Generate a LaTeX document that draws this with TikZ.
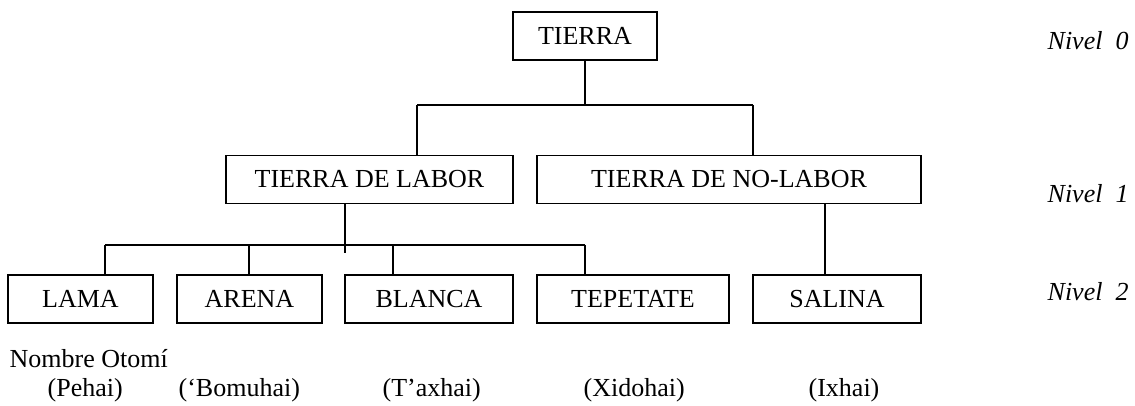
\documentclass[tikz,border=0pt]{standalone}
\usepackage{fontspec}
\setmainfont{Liberation Serif}
\usepackage{tikz}
\tikzset{every picture/.style={x=0.5pt,y=-0.5pt,line width=0.65pt},
  caja/.style={draw,rectangle,inner sep=0pt,minimum height=23.75pt},
  nivel/.style={anchor=base west,inner sep=0pt,font=\fontsize{13}{15.6}\selectfont\itshape},
  texto/.style={anchor=base west,inner sep=0pt}}

\begin{document}
\begin{tikzpicture}[font=\fontsize{13}{15.6}\selectfont]
      \useasboundingbox (0,0) rectangle (1135,406);

      \node[caja,minimum width=72pt,minimum height=24pt] (tierra) at (585, 36){TIERRA};
      \node[caja,minimum width=143.5pt] (labor) at (369.5, 179.5){TIERRA DE LABOR};
      \node[caja,minimum width=192pt] (nolabor) at (729, 179.5){TIERRA DE NO-LABOR};
      \node[caja,minimum width=72.5pt,minimum height=24pt] (lama) at (80.5, 299){LAMA};
      \node[caja,minimum width=72.5pt,minimum height=24pt] (arena) at (249.5, 299){ARENA};
      \node[caja,minimum width=84pt,minimum height=24pt] (blanca) at (429, 299){BLANCA};
      \node[caja,minimum width=96pt,minimum height=24pt] (tepetate) at (633, 299){TEPETATE};
      \node[caja,minimum width=84pt,minimum height=24pt] (salina) at (837, 299){SALINA};

      \node[nivel] (niv0) at (1047, 50){Nivel\ \ 0};
      \node[nivel] (niv1) at (1047, 203){Nivel\ \ 1};
      \node[nivel] (niv2) at (1047, 300){Nivel\ \ 2};

      \node[texto] (otomi) at (9, 367){Nombre Otomí};
      \node[texto] (o1) at (47, 396){(Pehai)};
      \node[texto] (o2) at (178, 396){(`Bomuhai)};
      \node[texto] (o3) at (382, 396){(T'axhai)};
      \node[texto] (o4) at (583, 396){(Xidohai)};
      \node[texto] (o5) at (808, 396){(Ixhai)};

      \coordinate (c0) at (585, 105);
      \coordinate (c0a) at (417, 105);
      \coordinate (c0b) at (753, 105);
      \coordinate (c1) at (345, 253);
      \coordinate (c1a) at (105, 245);
      \coordinate (c1b) at (249, 245);
      \coordinate (c1c) at (393, 245);
      \coordinate (c1d) at (585, 245);
      \coordinate (c2) at (825, 245);

      \draw[-](tierra.south)--(c0);
      \draw[-](c0a)--(c0b);
      \draw[-](c0a)--(c0a |- labor.north);
      \draw[-](c0b)--(c0b |- nolabor.north);
      \draw[-](labor.south -| c1)--(c1);
      \draw[-](c1a)--(c1d);
      \foreach \c/\n in {c1a/lama, c1b/arena, c1c/blanca, c1d/tepetate}
        \draw[-](\c)--(\c |- \n.north);
      \draw[-](nolabor.south -| c2)--(salina.north -| c2);
    \end{tikzpicture}
\end{document}
